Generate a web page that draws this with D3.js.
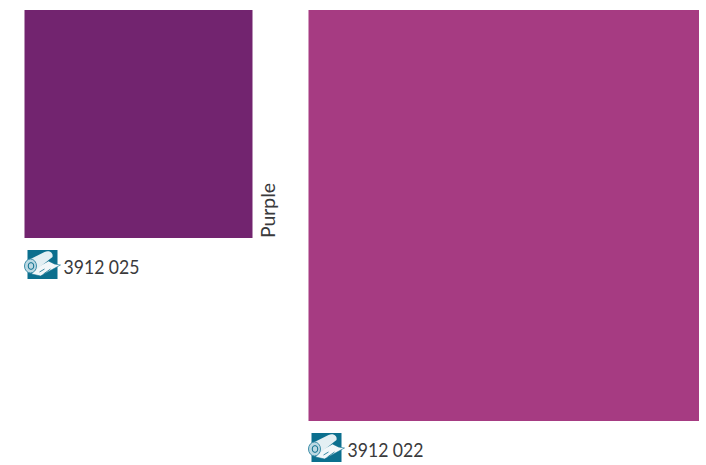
<!DOCTYPE html>
<html>
<head>
<meta charset="utf-8">
<script src="https://cdn.jsdelivr.net/npm/d3@7"></script>
<style>
  html, body { margin: 0; padding: 0; background: #fff; }
  text { font-family: Lato, "Noto Sans", sans-serif; fill: #3a3a3c; }
</style>
</head>
<body>
<div id="chart"></div>
<script>
var codes = ['3912 025', '3912 022'];
var group_label = 'Purple';

var color = d3.scaleOrdinal().domain(codes).range(['#72246f', '#a63b82']);
var left = d3.scaleOrdinal().domain(codes).range([24.5, 308.5]);
var wide = d3.scaleOrdinal().domain(codes).range([228, 390.5]);
var tall = d3.scaleOrdinal().domain(codes).range([228, 411]);
var top_y = 10;

var svg = d3.select('#chart').append('svg')
  .attr('width', 706)
  .attr('height', 465)
  .style('display', 'block');

var swatch = svg.selectAll('g.swatch')
  .data(codes)
  .enter().append('g')
  .attr('class', 'swatch');

swatch.append('rect')
  .attr('x', function(d) { return left(d); })
  .attr('y', top_y)
  .attr('width', function(d) { return wide(d); })
  .attr('height', function(d) { return tall(d); })
  .attr('fill', function(d) { return color(d); });

swatch.append('text')
  .attr('x', function(d) { return left(d) + 39; })
  .attr('y', function(d) { return top_y + tall(d) + 36; })
  .attr('font-size', 19)
  .attr('textLength', 76)
  .attr('lengthAdjust', 'spacingAndGlyphs')
  .text(function(d) { return d; });

swatch.append('g')
  .attr('transform', function(d) {
    return 'translate(' + (left(d) + 3) + ',' + (top_y + tall(d) + 12) + ')';
  })
  .each(icon);

svg.append('text')
  .attr('transform', 'translate(275,238) rotate(-90)')
  .attr('font-size', 19)
  .attr('textLength', 55)
  .attr('lengthAdjust', 'spacingAndGlyphs')
  .text(group_label);

// teal square with a roll of sheet material, about 30px wide
function icon() {
  var g = d3.select(this);

  g.append('rect')
    .attr('width', 30)
    .attr('height', 29)
    .attr('fill', '#0b6f8e');

  // sheet running out to the right
  g.append('path')
    .attr('d', 'M4,24 L13,26 L33,15 L27,14 L21,11 L8,18 Z')
    .attr('fill', '#f2f7f9')
    .attr('stroke', '#0b6f8e')
    .attr('stroke-width', 0.6);

  // roll body
  g.append('path')
    .attr('d', 'M-1,11 L17,2 C22,0 26,3 25,7 L6,22 Z')
    .attr('fill', '#e3eff3');

  // roll end, spiral
  g.append('ellipse')
    .attr('cx', 3)
    .attr('cy', 16)
    .attr('rx', 6)
    .attr('ry', 7)
    .attr('fill', '#bcd9e3')
    .attr('stroke', '#3d8ea9')
    .attr('stroke-width', 1);

  g.append('ellipse')
    .attr('cx', 3.5)
    .attr('cy', 16)
    .attr('rx', 2.8)
    .attr('ry', 3.4)
    .attr('fill', 'none')
    .attr('stroke', '#0b6f8e')
    .attr('stroke-width', 1);

  // print marks on the sheet
  g.append('path')
    .attr('d', 'M12,22 L17,19 M16,24 L23,19')
    .attr('fill', 'none')
    .attr('stroke', '#0b6f8e')
    .attr('stroke-width', 0.8);
}
</script>
</body>
</html>
